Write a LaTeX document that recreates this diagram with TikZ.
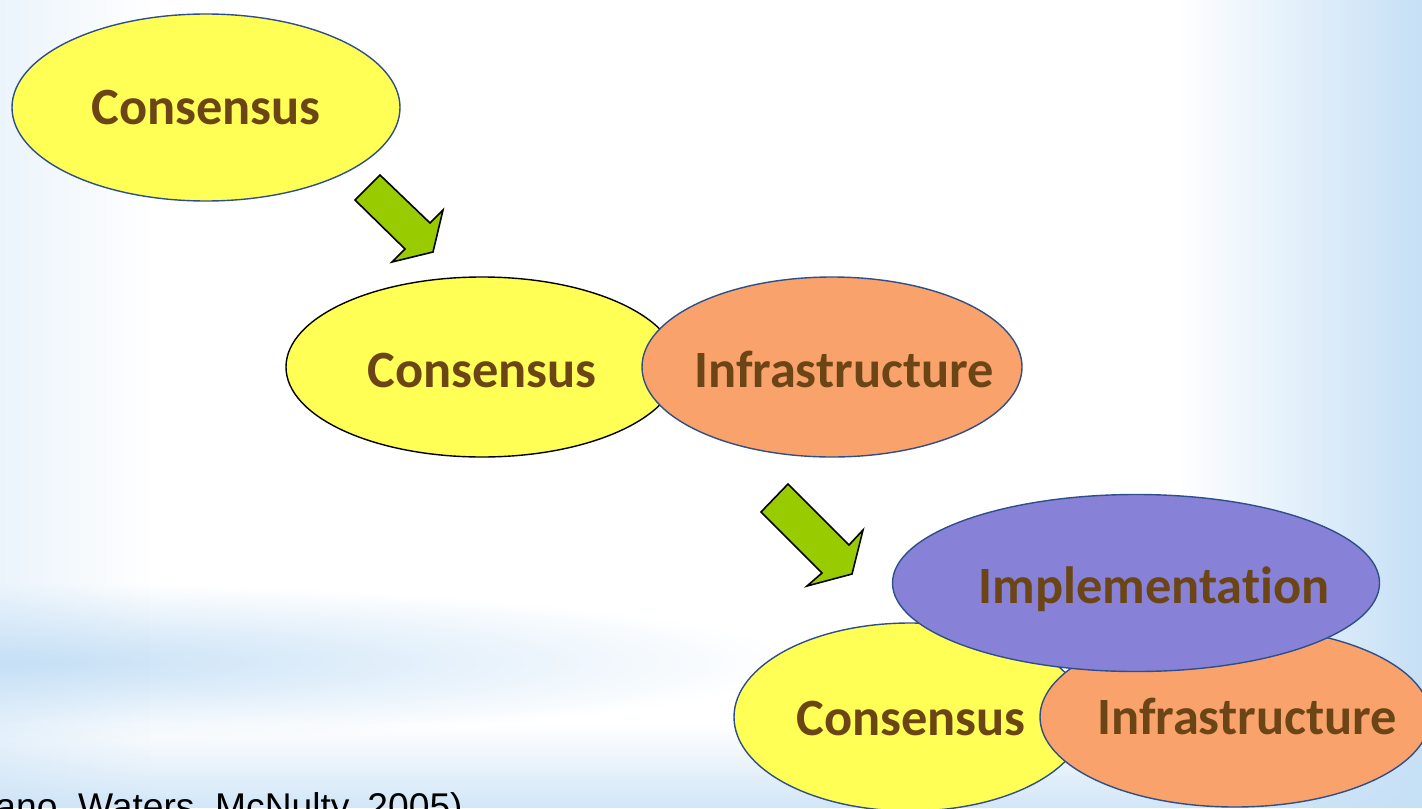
\documentclass[tikz,border=0pt]{standalone}
\usepackage{fontspec}
\setmainfont{Carlito}[Ligatures=NoCommon]
\newfontfamily\refsans{Liberation Sans}
\usetikzlibrary{shapes.geometric,fadings}
\definecolor{bgblue}{HTML}{C6E0F6}
\definecolor{yel}{HTML}{FFFF55}
\definecolor{sal}{HTML}{F9A26C}
\definecolor{peri}{HTML}{8782D8}
\definecolor{edgeblue}{HTML}{2F4F8A}
\definecolor{txtbrown}{HTML}{6B4515}
\definecolor{arrgreen}{HTML}{99CC00}
\tikzfading[name=fadeR, left color=transparent!0, right color=transparent!100]
\tikzfading[name=fadeL, left color=transparent!100, right color=transparent!0]
\tikzfading[name=fadeD, top color=transparent!100, bottom color=transparent!0]
\begin{document}
\begin{tikzpicture}[x=0.5pt,y=-0.5pt,
  ell/.style={ellipse, draw=edgeblue, line width=0.7pt, inner sep=0pt},
  lbl/.style={anchor=base, text=txtbrown, font=\bfseries\fontsize{26.2}{30}\selectfont, inner sep=0pt},
  blockarrow/.style={fill=arrgreen, draw=black, line width=0.8pt, line join=miter}]
\useasboundingbox (0,0) rectangle (1422,808);
\clip (0,0) rectangle (1422,808);
% background
\fill[white] (0,0) rectangle (1422,808);
\shade[inner color=bgblue, outer color=white] (0,662) ellipse [x radius=800, y radius=80];
\fill[bgblue, path fading=fadeL] (1180,0) rectangle (1422,808);
\fill[bgblue, fill opacity=0.35, path fading=fadeR] (0,0) rectangle (150,808);
\fill[bgblue, fill opacity=0.8, path fading=fadeD] (0,725) rectangle (1422,808);
% first stage
\node[ell, fill=yel, minimum width=194pt, minimum height=93.5pt] (c1) at (206,107.5) {};
\node[lbl] (tc1) at (206,125) {Consensus};
% arrow 1
\coordinate (a1) at (380,175);
\draw[blockarrow] (a1) -- (355,200) -- (405,249) -- (392,262) -- (433,252) -- (443,210) -- (430,223) -- cycle;
% second stage
\node[ell, draw=black, fill=yel, minimum width=196pt, minimum height=90pt] (c2) at (482,367) {};
\node[ell, fill=sal, minimum width=190pt, minimum height=90pt] (i2) at (832,367) {};
\node[lbl] (tc2) at (482,387) {Consensus};
\node[lbl] (ti2) at (844,387) {Infrastructure};
% arrow 2
\coordinate (a2) at (788,484);
\draw[blockarrow] (a2) -- (761,512) -- (822,573) -- (807,586) -- (852,574) -- (863,530) -- (849,545) -- cycle;
% third stage
\node[ell, fill=yel, minimum width=176pt, minimum height=94pt] (c3) at (910,717) {};
\node[ell, fill=sal, minimum width=195pt, minimum height=90pt] (i3) at (1235,717) {};
\node[ell, fill=peri, minimum width=243.5pt, minimum height=88.5pt] (m3) at (1136,583) {};
\node[lbl] (tc3) at (911,735) {Consensus};
\node[lbl] (ti3) at (1247,734) {Infrastructure};
\node[lbl] (tm3) at (1154,603) {Implementation};
% citation
\node[anchor=base west, inner sep=0pt, font=\refsans\fontsize{18.6}{20}\selectfont] (cite) at (-5,819) {ano, Waters, McNulty, 2005)};
\end{tikzpicture}
\end{document}
